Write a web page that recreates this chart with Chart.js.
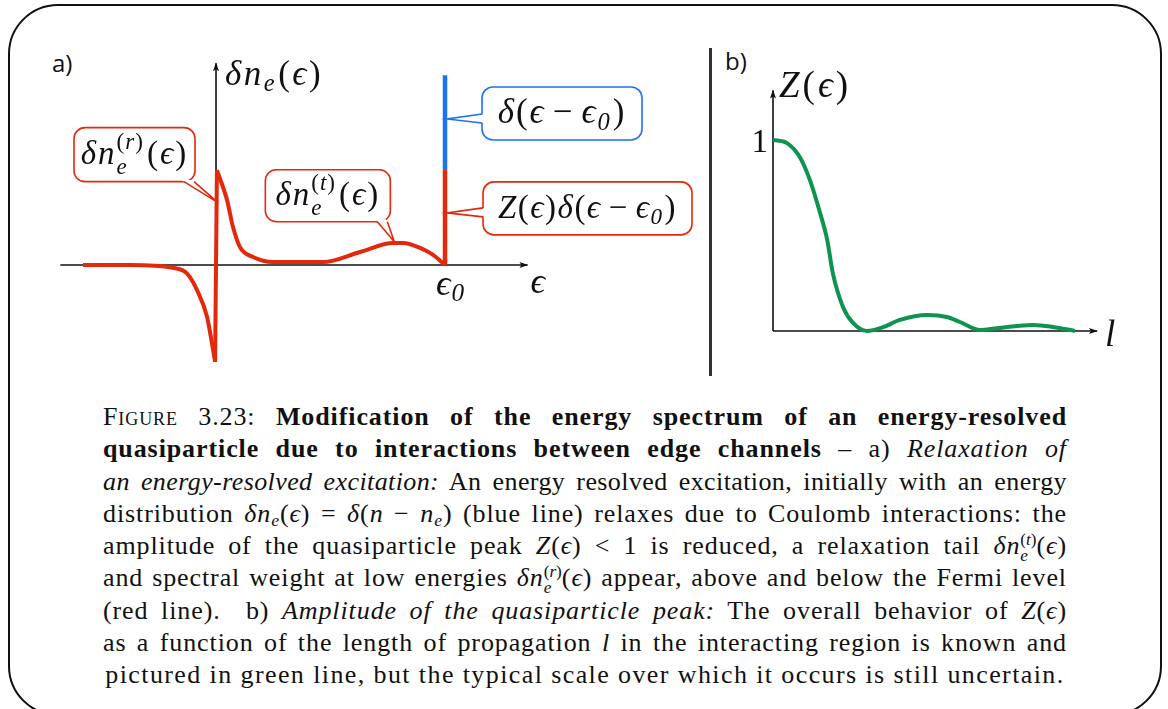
<!DOCTYPE html>
<html>
<head>
<meta charset="utf-8">
<script src="https://cdn.jsdelivr.net/npm/chart.js@4.4.1/dist/chart.umd.min.js"></script>
<style>
html, body { margin: 0; padding: 0; background: #fff; width: 1168px; height: 709px; overflow: hidden; position: relative; font-family: 'Liberation Serif', 'DejaVu Serif', serif; color: #111; }
#frame { position: absolute; left: 8px; top: 4px; width: 1154px; height: 712px; border: 2.5px solid #111; border-radius: 50px; box-sizing: border-box; }
#wrapA { position: absolute; left: 40px; top: 40px; width: 660px; height: 340px; }
#wrapB { position: absolute; left: 715px; top: 40px; width: 440px; height: 345px; }
#sep { position: absolute; left: 709px; top: 48px; width: 3px; height: 328px; background: #333; }
.lab { position: absolute; font-family: 'Open Sans', 'Liberation Sans', sans-serif; font-size: 24px; color: #111; }
#cap { position: absolute; left: 103px; top: 401px; width: 964px; font-size: 26px; line-height: 32.3px; letter-spacing: 0.9px; }
#cap div { text-align: justify; text-align-last: justify; height: 32.3px; }
#cap div.aperto { letter-spacing: 0.4px; }
#cap div.ult { text-align: center; text-align-last: center; letter-spacing: 1.4px; }
.sc { font-variant: small-caps; }
.ss { display: inline-block; font-size: 0.66em; line-height: 0.95; vertical-align: -7px; text-align: left; letter-spacing: 0; }
.ss span { display: block; }
sub { font-size: 0.68em; vertical-align: -4px; line-height: 0; }
</style>
</head>
<body>
<div id="frame"></div>
<div class="lab" style="left:52px;top:46px;">a)</div>
<div class="lab" style="left:725px;top:44px;">b)</div>
<div id="sep"></div>
<div id="wrapA"><canvas id="grafA"></canvas></div>
<div id="wrapB"><canvas id="grafB"></canvas></div>

<div id="cap">
  <div><span class="sc">Figure</span> 3.23: <b>Modification of the energy spectrum of an energy-resolved</b></div>
  <div><b>quasiparticle due to interactions between edge channels</b> – a) <i>Relaxation of</i></div>
  <div class="aperto"><i>an energy-resolved excitation:</i> An energy resolved excitation, initially with an energy</div>
  <div>distribution <i>δn</i><sub><i>e</i></sub>(<i>ϵ</i>) = <i>δ</i>(<i>n</i> − <i>n</i><sub><i>e</i></sub>) (blue line) relaxes due to Coulomb interactions: the</div>
  <div>amplitude of the quasiparticle peak <i>Z</i>(<i>ϵ</i>) &lt; 1 is reduced, a relaxation tail <i>δn</i><span class="ss"><span>(<i>t</i>)</span><span><i>e</i></span></span>(<i>ϵ</i>)</div>
  <div>and spectral weight at low energies <i>δn</i><span class="ss"><span>(<i>r</i>)</span><span><i>e</i></span></span>(<i>ϵ</i>) appear, above and below the Fermi level</div>
  <div>(red line). &nbsp;b) <i>Amplitude of the quasiparticle peak:</i> The overall behavior of <i>Z</i>(<i>ϵ</i>)</div>
  <div>as a function of the length of propagation <i>l</i> in the interacting region is known and</div>
  <div class="ult">pictured in green line, but the typical scale over which it occurs is still uncertain.</div>
</div>

<script>
// --- DADOS PAINEL A (energia ϵ, ϵ0 = 1) ---
const epsEsq = [-0.581, -0.376, -0.188, -0.127, -0.083, -0.039, -0.013, -0.004];
const dnEsq  = [0, 0, -0.03, -0.09, -0.27, -0.56, -0.91, -1.04];
const epsPico = [-0.004, 0.004];
const dnPico  = [-1.04, 1.02];
const epsDir = [0.004, 0.048, 0.074, 0.105, 0.162, 0.249, 0.467, 0.629, 0.773, 0.817, 0.891, 0.948, 1.0];
const dnDir  = [1.02, 0.70, 0.41, 0.19, 0.086, 0.032, 0.032, 0.14, 0.237, 0.237, 0.183, 0.108, 0];
const eps0 = 1;
const zPico = 1.02;     // altura vermelha Z(ϵ)δ(ϵ-ϵ0)
const deltaTopo = 2.04; // altura azul δ(ϵ-ϵ0)

// --- DADOS PAINEL B ---
const compL = [0, 0.43, 0.83, 1.14, 1.45, 1.67, 1.85, 2.16, 2.47, 2.90, 3.40, 3.92, 4.75, 5.37, 5.77, 6.39, 7.0, 8.02, 8.64, 9.32];
const valZ  = [1.0, 0.984, 0.91, 0.79, 0.62, 0.48, 0.30, 0.126, 0.042, 0.0, 0.02, 0.058, 0.084, 0.073, 0.047, 0.005, 0.016, 0.031, 0.021, 0.0];
const ticksZ = [1];

const VERMELHO = '#e3280c';
const AZUL = '#1b72f2';
const VERDE = '#0e9450';

const pares = (xs, ys) => xs.map((x, i) => ({ x: x, y: ys[i] }));

// --- TEXTO MATEMÁTICO NO CANVAS ---
function fonte(it, s) {
    return (it ? 'italic ' : '') + s + 'px "Liberation Serif", "DejaVu Serif", serif';
}

function escreverMat(ctx, runs, x, y, size, desenhar, esp) {
    esp = esp || 0;
    let cx = x;
    for (const r of runs) {
        if (r.sub !== undefined || r.sup !== undefined) {
            const s = size * 0.7;
            let w = 0;
            if (r.sup) {
                let sx = cx;
                for (const [t, it] of r.sup) {
                    ctx.font = fonte(it, s);
                    if (desenhar) ctx.fillText(t, sx, y - size * 0.45);
                    sx += ctx.measureText(t).width + esp * 0.5;
                }
                w = Math.max(w, sx - cx);
            }
            if (r.sub) {
                ctx.font = fonte(true, s);
                const dy = r.sup ? size * 0.3 : size * 0.18;
                if (desenhar) ctx.fillText(r.sub, cx, y + dy);
                w = Math.max(w, ctx.measureText(r.sub).width);
            }
            cx += w + 1 + esp;
        } else {
            const pad = r.pad || 0;
            cx += pad;
            ctx.font = fonte(r.i, size);
            if (desenhar) ctx.fillText(r.t, cx, y);
            cx += ctx.measureText(r.t).width + esp + pad;
        }
    }
    return cx - x;
}

const MENOS = { t: '−', pad: 7 };
const txtDnR = [{ t: 'δ', i: 1 }, { t: 'n', i: 1 }, { sub: 'e', sup: [['(', 0], ['r', 1], [')', 0]] }, { t: '(' }, { t: 'ϵ', i: 1 }, { t: ')' }];
const txtDnT = [{ t: 'δ', i: 1 }, { t: 'n', i: 1 }, { sub: 'e', sup: [['(', 0], ['t', 1], [')', 0]] }, { t: '(' }, { t: 'ϵ', i: 1 }, { t: ')' }];
const txtDelta = [{ t: 'δ', i: 1 }, { t: '(' }, { t: 'ϵ', i: 1 }, MENOS, { t: 'ϵ', i: 1 }, { sub: '0' }, { t: ')' }];
const txtZDelta = [{ t: 'Z', i: 1 }, { t: '(' }, { t: 'ϵ', i: 1 }, { t: ')' }, { t: 'δ', i: 1 }, { t: '(' }, { t: 'ϵ', i: 1 }, MENOS, { t: 'ϵ', i: 1 }, { sub: '0' }, { t: ')' }];

// balões: âncora em dados, caixa relativa à âncora em px
const baloes = [
    { ancora: [0, 0.67], caixa: [-144, -75, 121, 54], base: [[-34, -21], [-24, -21]], cor: VERMELHO, txt: txtDnR, tam: 33, esp: 2 },
    { ancora: [0.77, 0.25], caixa: [-129, -72, 125, 52], base: [[-17, -20], [-7, -20]], cor: VERMELHO, txt: txtDnT, tam: 33, esp: 2 },
    { ancora: [1, 1.57], caixa: [35, -32, 160, 53], base: [[35, -5], [35, 4]], cor: AZUL, txt: txtDelta, tam: 35, esp: 2 },
    { ancora: [1, 0.56], caixa: [36, -31, 209, 53], base: [[36, -5], [36, 4]], cor: VERMELHO, txt: txtZDelta, tam: 33, esp: 1.5 }
];

function seta(ctx, x1, y1, x2, y2) {
    ctx.beginPath();
    ctx.moveTo(x1, y1);
    ctx.lineTo(x2, y2);
    ctx.stroke();
    const ang = Math.atan2(y2 - y1, x2 - x1);
    ctx.beginPath();
    ctx.moveTo(x2 + Math.cos(ang), y2 + Math.sin(ang));
    ctx.lineTo(x2 - 8 * Math.cos(ang) + 3 * Math.sin(ang), y2 - 8 * Math.sin(ang) - 3 * Math.cos(ang));
    ctx.lineTo(x2 - 6 * Math.cos(ang), y2 - 6 * Math.sin(ang));
    ctx.lineTo(x2 - 8 * Math.cos(ang) - 3 * Math.sin(ang), y2 - 8 * Math.sin(ang) + 3 * Math.cos(ang));
    ctx.closePath();
    ctx.fill();
}

function balao(ctx, ax, ay, b) {
    const bx = ax + b.caixa[0], by = ay + b.caixa[1], bw = b.caixa[2], bh = b.caixa[3];
    ctx.save();
    ctx.lineWidth = 1.6;
    ctx.strokeStyle = b.cor;
    ctx.fillStyle = '#fff';
    ctx.beginPath();
    ctx.roundRect(bx, by, bw, bh, 11);
    ctx.fill();
    ctx.stroke();
    const p1 = [ax + b.base[0][0], ay + b.base[0][1]];
    const p2 = [ax + b.base[1][0], ay + b.base[1][1]];
    const mx = (p1[0] + p2[0]) / 2 - ax, my = (p1[1] + p2[1]) / 2 - ay;
    const n = Math.hypot(mx, my), ux = mx / n * 3, uy = my / n * 3;
    ctx.beginPath();
    ctx.moveTo(p1[0] + ux, p1[1] + uy);
    ctx.lineTo(ax, ay);
    ctx.lineTo(p2[0] + ux, p2[1] + uy);
    ctx.closePath();
    ctx.fill();
    ctx.beginPath();
    ctx.moveTo(p1[0], p1[1]);
    ctx.lineTo(ax, ay);
    ctx.lineTo(p2[0], p2[1]);
    ctx.stroke();
    ctx.fillStyle = '#111';
    ctx.textBaseline = 'alphabetic';
    const w = escreverMat(ctx, b.txt, 0, 0, b.tam, false, b.esp);
    escreverMat(ctx, b.txt, bx + (bw - w) / 2, by + bh / 2 + b.tam * 0.28, b.tam, true, b.esp);
    ctx.restore();
}

const pluginA = {
    id: 'eixosA',
    beforeDatasetsDraw(chart) {
        const { ctx, scales: { x, y } } = chart;
        ctx.save();
        ctx.strokeStyle = '#111';
        ctx.fillStyle = '#111';
        ctx.lineWidth = 1.6;
        seta(ctx, x.getPixelForValue(-0.68), y.getPixelForValue(0), x.getPixelForValue(1.36), y.getPixelForValue(0));
        seta(ctx, x.getPixelForValue(0), y.getPixelForValue(-1.04), x.getPixelForValue(0), y.getPixelForValue(2.17));
        ctx.restore();
    },
    afterDatasetsDraw(chart) {
        const { ctx, scales: { x, y } } = chart;
        ctx.save();
        ctx.fillStyle = '#111';
        const x0 = x.getPixelForValue(0), yTop = y.getPixelForValue(2.17);
        escreverMat(ctx, [{ t: 'δ', i: 1 }, { t: 'n', i: 1 }, { sub: 'e' }, { t: '(' }, { t: 'ϵ', i: 1 }, { t: ')' }], x0 + 9, yTop + 22, 35, true, 2.5);
        const xe = x.getPixelForValue(eps0), ya = y.getPixelForValue(0);
        escreverMat(ctx, [{ t: 'ϵ', i: 1 }, { sub: '0' }], xe - 9, ya + 30, 36, true, 1);
        escreverMat(ctx, [{ t: 'ϵ', i: 1 }], x.getPixelForValue(1.36) + 3, ya + 28, 36, true);
        for (const b of baloes) {
            balao(ctx, x.getPixelForValue(b.ancora[0]) + 2, y.getPixelForValue(b.ancora[1]), b);
        }
        ctx.restore();
    }
};

const pluginB = {
    id: 'eixosB',
    beforeDatasetsDraw(chart) {
        const { ctx, scales: { x, y } } = chart;
        ctx.save();
        ctx.strokeStyle = '#111';
        ctx.fillStyle = '#111';
        ctx.lineWidth = 1.6;
        const x0 = x.getPixelForValue(0), y0 = y.getPixelForValue(0);
        seta(ctx, x0, y0, x.getPixelForValue(10), y0);
        seta(ctx, x0, y0, x0, y.getPixelForValue(1.26));
        ctx.textAlign = 'right';
        ctx.font = fonte(false, 33);
        for (const t of ticksZ) ctx.fillText(String(t), x0 - 5, y.getPixelForValue(t) + 12);
        ctx.textAlign = 'left';
        escreverMat(ctx, [{ t: 'Z', i: 1 }, { t: '(' }, { t: 'ϵ', i: 1 }, { t: ')' }], x0 + 6, y.getPixelForValue(1.26) + 7, 37, true, 3);
        escreverMat(ctx, [{ t: 'l', i: 1 }], x.getPixelForValue(10) + 8, y0 + 15, 37, true);
        ctx.restore();
    }
};

const baseOpts = (xmin, xmax, ymin, ymax) => ({
    responsive: true,
    maintainAspectRatio: false,
    animation: false,
    layout: { padding: 0 },
    elements: { point: { radius: 0 } },
    plugins: { legend: { display: false }, tooltip: { enabled: false } },
    scales: {
        x: { type: 'linear', min: xmin, max: xmax, display: false },
        y: { type: 'linear', min: ymin, max: ymax, display: false }
    }
});

const linha = (data, cor, extra) => Object.assign({
    data: data,
    borderColor: cor,
    borderWidth: 4,
    fill: false,
    pointRadius: 0,
    borderJoinStyle: 'round',
    tension: 0
}, extra || {});

new Chart(document.getElementById('grafA'), {
    type: 'line',
    data: {
        datasets: [
            linha(pares(epsEsq, dnEsq), VERMELHO, { cubicInterpolationMode: 'monotone' }),
            linha(pares(epsPico, dnPico), VERMELHO),
            linha(pares(epsDir, dnDir), VERMELHO, { cubicInterpolationMode: 'monotone' }),
            linha([{ x: eps0, y: 0 }, { x: eps0, y: zPico }], VERMELHO, { borderWidth: 4.5 }),
            linha([{ x: eps0, y: zPico }, { x: eps0, y: deltaTopo }], AZUL, { borderWidth: 4.5 })
        ]
    },
    options: baseOpts(-0.7686, 2.1135, -1.2366, 2.419),
    plugins: [pluginA]
});

new Chart(document.getElementById('grafB'), {
    type: 'line',
    data: {
        datasets: [
            linha(pares(compL, valZ), VERDE, { cubicInterpolationMode: 'monotone' })
        ]
    },
    options: baseOpts(-1.79, 11.79, -0.283, 1.524),
    plugins: [pluginB]
});
</script>
</body>
</html>
